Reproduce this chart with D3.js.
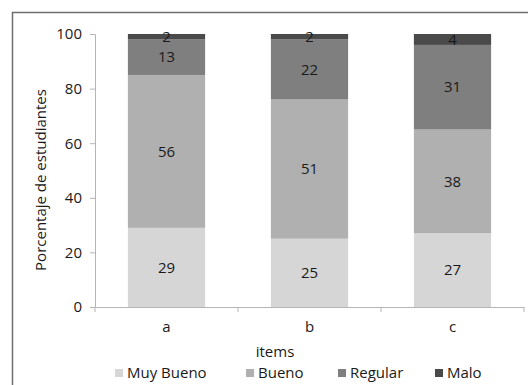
<!DOCTYPE html>
<html>
<head>
<meta charset="utf-8">
<script src="https://cdn.jsdelivr.net/npm/d3@7/dist/d3.min.js"></script>
<style>
  html, body { margin: 0; padding: 0; background: #fff; }
  svg { display: block; font-family: "Open Sans", Lato, sans-serif; }
</style>
</head>
<body>
<svg id="chart" width="528" height="385"></svg>
<script>
// Stacked percentages per item
const items = ["a", "b", "c"];
const seriesNames = ["Muy Bueno", "Bueno", "Regular", "Malo"];
const muyBueno = [29, 25, 27];
const bueno = [56, 51, 38];
const regular = [13, 22, 31];
const malo = [2, 2, 4];
const yTicks = [0, 20, 40, 60, 80, 100];
const colors = ["#d6d6d6", "#b0b0b0", "#7f7f7f", "#4a4a4a"];

const rows = items.map((it, i) => ({
  item: it,
  "Muy Bueno": muyBueno[i],
  "Bueno": bueno[i],
  "Regular": regular[i],
  "Malo": malo[i]
}));

const FONT = "'Open Sans', Lato, sans-serif";
const FS = 15;
const svg = d3.select("#chart");

// outer frame: top and left edges
svg.append("line").attr("x1", 12).attr("x2", 528).attr("y1", 12.5).attr("y2", 12.5)
  .attr("stroke", "#6e6e6e").attr("stroke-width", 1.5);
svg.append("line").attr("x1", 12.5).attr("x2", 12.5).attr("y1", 12).attr("y2", 385)
  .attr("stroke", "#6e6e6e").attr("stroke-width", 1.5);

const margin = { left: 95, right: 4, top: 34, bottom: 78 };
const W = 528, H = 385;
const x = d3.scaleBand().domain(items).range([margin.left, W - margin.right]).paddingInner(0.46).paddingOuter(0.23);
const y = d3.scaleLinear().domain([0, 100]).range([H - margin.bottom, margin.top]);

const stack = d3.stack().keys(seriesNames)(rows);

const g = svg.append("g");
stack.forEach((layer, k) => {
  g.selectAll(null).data(layer).enter().append("rect")
    .attr("x", d => x(d.data.item))
    .attr("width", x.bandwidth())
    .attr("y", d => y(d[1]))
    .attr("height", d => y(d[0]) - y(d[1]))
    .attr("fill", colors[k]);
});

// value labels
stack.forEach((layer, k) => {
  g.selectAll(null).data(layer).enter().append("text")
    .attr("x", d => x(d.data.item) + x.bandwidth() / 2)
    .attr("y", d => (y(d[0]) + y(d[1])) / 2)
    .attr("dy", "0.35em")
    .attr("text-anchor", "middle")
    .attr("font-size", FS)
    .attr("fill", "#1a1a1a")
    .text(d => d[1] - d[0]);
});

// axes
const axisColor = "#b5b5b5";
const yAxis = svg.append("g").attr("transform", `translate(${margin.left},0)`)
  .call(d3.axisLeft(y).tickValues(yTicks).tickSize(5).tickPadding(8));
const xBoundaries = items.map(it => x(it) - x.step() * x.paddingInner() / 2).concat([W - margin.right]);
xBoundaries[0] = margin.left;
const xAxis = svg.append("g").attr("transform", `translate(0,${H - margin.bottom})`)
  .call(d3.axisBottom(x).tickSize(0).tickPadding(14));
xAxis.selectAll(null).data(xBoundaries).enter().append("line")
  .attr("x1", d => d).attr("x2", d => d).attr("y1", 0).attr("y2", 5)
  .attr("stroke", axisColor);
[yAxis, xAxis].forEach(a => {
  a.select(".domain").attr("stroke", axisColor);
  a.selectAll(".tick line").attr("stroke", axisColor);
  a.selectAll("text").attr("font-size", FS).attr("fill", "#1a1a1a").attr("font-family", FONT);
});

// titles
svg.append("text")
  .attr("transform", `translate(41,180) rotate(-90)`)
  .attr("text-anchor", "middle").attr("dy", "0.35em")
  .attr("font-size", FS).attr("fill", "#1a1a1a")
  .text("Porcentaje de estudiantes");
svg.append("text")
  .attr("x", 275).attr("y", 352)
  .attr("text-anchor", "middle").attr("dy", "0.35em")
  .attr("font-size", FS).attr("fill", "#1a1a1a")
  .text("items");

// legend
const legendX = [115, 246, 338, 435];
const legend = svg.selectAll(".leg").data(seriesNames).enter().append("g")
  .attr("transform", (d, i) => `translate(${legendX[i]},373)`);
legend.append("rect").attr("x", 0).attr("y", -4).attr("width", 8).attr("height", 8)
  .attr("fill", (d, i) => colors[i]);
legend.append("text").attr("x", 12).attr("dy", "0.35em")
  .attr("font-size", FS).attr("fill", "#1a1a1a").text(d => d);
</script>
</body>
</html>
